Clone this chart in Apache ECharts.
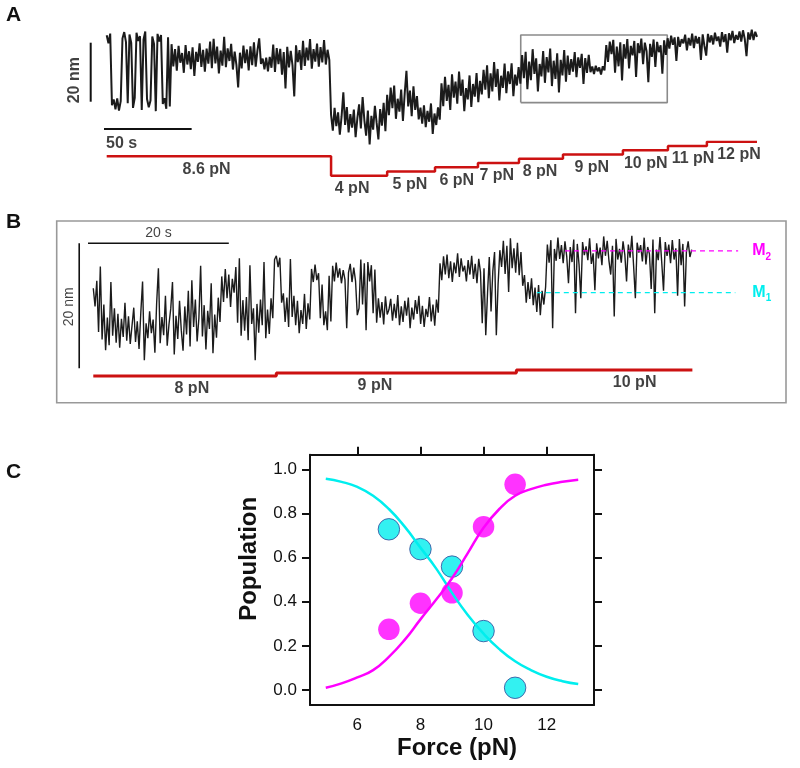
<!DOCTYPE html>
<html><head><meta charset="utf-8">
<script src="https://cdn.jsdelivr.net/npm/echarts@6/dist/echarts.min.js"></script>
<style>html,body{margin:0;padding:0;background:#fff}#c{width:800px;height:768px}</style>
</head><body><div id="c"></div>
<script>
const FONT = '"Liberation Sans", Arial, Helvetica, sans-serif';

// ---------- Panel A : extension trace (nm), one sample per second ----------
const dtA = 1;
const traceA = [
22.5,19.8,23.1,-1.2,0.8,-2.6,1.1,-3.0,0.2,21.4,23.6,20.2,-0.5,22.8,19.9,-2.1,1.3,23.4,20.6,22.2,-2.8,21.0,23.8,0.9,-1.9,0.4,22.1,19.6,-3.2,23.0,20.4,22.6,-0.8,1.2,-2.4,21.8,-1.6,
19.5,12.0,17.8,10.5,18.9,13.2,16.5,9.8,19.2,12.6,
17.1,11.0,18.4,8.7,16.9,13.5,19.8,11.8,17.6,10.2,
18.0,12.9,20.4,11.4,21.3,13.0,18.7,9.6,17.3,12.2,
22.0,11.7,18.1,13.8,19.6,10.9,17.0,12.5,4.8,16.6,
11.3,19.0,13.1,17.7,10.6,18.8,12.4,20.1,11.9,17.4,
21.5,12.8,14.6,11.0,14.9,10.3,15.2,11.5,19.4,10.1,
18.2,12.7,17.9,9.2,16.8,4.5,18.6,11.6,17.2,12.3,
1.8,19.1,13.4,17.5,10.8,20.6,12.1,18.3,14.0,21.2,
11.2,17.8,13.6,19.7,11.9,18.5,13.3,20.9,12.6,17.6,14.2,
-4.5,-9.8,-2.1,-8.3,-3.6,-11.2,-5.0,3.2,-7.9,-1.8,
-10.4,-4.2,-8.8,-2.7,-12.0,-5.6,-0.9,-9.1,1.6,-6.3,
-11.5,-3.0,-14.5,-4.8,-9.5,-1.4,-7.2,-12.8,-2.5,-8.1,
-0.4,-10.0,
2.3,-4.6,4.8,-2.2,5.5,-5.8,1.0,-3.4,4.1,-6.5,2.7,10.5,-1.6,3.8,-4.9,5.2,-2.8,1.9,-6.0,
-2.0,-7.4,-1.2,-8.6,-3.1,-6.8,-0.6,-10.9,-4.0,-7.9,-1.9,-6.1,
6.2,-1.5,8.4,0.3,5.7,-2.8,9.3,1.4,6.8,-0.7,10.2,2.0,7.5,-3.2,4.6,0.8,8.9,-1.8,6.0,1.7,9.7,-0.2,7.1,
2.5,10.8,4.1,12.3,1.2,9.6,3.5,13.4,5.0,11.1,0.4,8.8,4.7,12.9,2.9,10.3,6.0,13.0,1.9,9.2,5.5,11.7,
6.1,15.8,8.0,16.9,4.2,13.6,7.3,17.8,9.4,14.7,3.5,12.8,8.6,17.2,6.4,15.1,9.9,18.0,5.3,13.9,7.7,16.4,3.1,14.2,8.9,17.5,6.8,
15.6,9.1,14.4,10.2,16.8,8.3,15.0,11.5,16.2,6.0,14.8,9.8,15.9,
10.0,11.9,9.4,12.2,10.3,11.6,9.2,12.0,10.6,
19.2,13.5,20.4,16.1,21.0,9.8,18.7,12.0,20.1,7.2,19.5,14.6,21.2,11.3,18.9,15.7,20.6,8.4,19.8,16.5,21.4,12.7,20.0,17.1,6.6,19.6,15.2,21.1,11.8,20.3,16.8,19.1,9.5,20.8,15.9,
21.5,18.0,22.4,19.3,21.8,13.8,22.0,18.6,21.2,19.8,22.7,17.4,21.6,19.0,23.1,18.2,22.3,19.7,21.9,14.2,22.8,18.9,15.6,23.0,20.1,22.5,19.4,23.4,20.6,22.1,18.7,23.6,20.2,22.9,16.6,23.2,20.8,24.0,19.9,22.6,21.0,23.8,20.4,24.2,21.3,15.4,23.5,21.1,24.4,20.9,23.7,22.0
];
const forceStepTimesA = [0,128,160,187.3,211.8,235.2,260.3,294.5,320.2,342.4,371];
const forceLevelsA = [8.6,4,5,6,7,8,9,10,11,12];
const forceLabelsA = ['8.6 pN','4 pN','5 pN','6 pN','7 pN','8 pN','9 pN','10 pN','11 pN','12 pN'];
const forceLabelTimesA = [57,140,173,199.7,222.5,247.2,276.7,307.5,334.5,360.7];
const zoomBoxA = {t0:236.2, t1:319.8, y0:-0.3, y1:22.6};
const scaleA = {sec:50, nm:20, barT:-9.13, barSecStart:-1.54, barSecY:-9.25};

// ---------- Panel B : zoomed trace (nm), 0.25 s per sample ----------
const dtB = 0.25;
const traceB = [
12.8,9.9,14.0,5.8, 16.3,4.6,10.2,2.9, 8.1,3.7,13.8,5.2, 9.6,4.1,8.7,3.3, 7.9,5.0,10.5,4.4,
8.3,3.9,6.8,9.7, 4.2,7.5,3.1,8.9, 13.9,1.3,7.2,4.8, 9.1,5.6,7.8,2.5, 10.4,16.0,4.0,8.2,
5.3,11.6,3.6,7.0, 9.5,13.8,2.2,8.4, 4.7,10.8,6.1,2.8, 9.9,5.4,12.4,3.5, 14.1,6.6,11.0,4.3,
8.0,16.4,5.1,10.1, 3.0,9.2,6.3,13.6, 2.4,8.6,4.9,11.3, 7.4,14.7,10.6,15.9, 11.2,15.0,9.8,14.3,
12.1,16.2,7.3,17.6, 5.2,10.9,6.0,11.4, 4.5,16.5,7.1,9.6, 1.3,10.3,5.7,11.0, 6.9,17.0,4.8,9.4,
5.5,11.2,8.0,17.4, 18.0,16.2,17.7,10.5, 12.0,7.4,11.3,6.6, 17.5,8.2,11.6,6.9, 10.8,5.6,9.3,7.1,
11.9,6.3,10.4,7.8, 15.9,13.8,16.6,14.1, 15.2,8.0,13.4,6.9, 9.1,6.1,14.8,7.5, 16.4,13.9,16.9,14.5,
16.0,13.6,15.7,14.2, 6.4,15.3,16.7,13.8, 16.1,14.0,8.5,9.6, 17.4,10.2,16.8,6.1, 17.0,13.9,16.5,8.8,
15.8,7.3,11.2,8.1, 10.6,7.0,11.5,8.6, 9.4,11.1,7.6,10.3, 8.0,11.7,6.9,9.9, 7.4,10.8,8.4,11.3,
6.4,9.7,7.8,10.9, 8.7,11.6,7.1,10.0, 6.6,9.5,8.2,11.4, 7.5,10.2,6.8,11.0, 8.9,16.8,14.1,17.9,
15.0,18.2,14.4,17.1, 13.8,16.9,15.2,18.4, 14.6,17.6,15.5,16.4, 13.9,17.3,15.0,18.0, 14.3,16.7,13.6,17.5,
15.4,7.2,16.0,5.3, 12.0,17.8,9.1,15.5, 18.6,5.3,13.4,18.9, 16.2,20.4,15.1,19.6, 12.2,20.8,16.0,19.2,
15.3,20.1,14.9,18.6, 13.2,14.9,10.5,13.8, 11.1,14.4,10.1,12.9, 9.0,13.3,8.5,12.4, 10.2,13.0,19.8,16.9,
20.5,6.4,19.1,17.2, 20.9,17.5,19.7,16.8, 20.3,17.9,13.6,19.4, 17.0,20.6,8.8,19.9, 16.6,11.2,20.2,18.1,
19.5,17.3,20.8,16.7, 18.4,12.5,20.0,17.6, 19.3,16.5,21.1,18.0, 20.4,17.2,15.0,19.6, 8.3,20.7,17.4,19.1,
16.9,20.3,18.2,13.9, 19.8,17.7,21.2,16.4, 11.2,20.1,18.5,19.7, 17.1,20.9,16.6,19.4, 18.3,12.7,20.6,8.8,
19.0,17.3,21.0,16.9, 12.4,20.2,18.0,19.8, 16.8,20.5,17.4,19.2, 11.6,20.7,16.5,19.9, 9.9,18.6,20.3,17.8,
19.0
];
const forceStepTimesB = [0,26,60.1,85.1];
const forceLevelsB = [8,9,10];
const forceLabelsB = ['8 pN','9 pN','10 pN'];
const forceLabelTimesB = [14,40,76.9];
const levelM2 = {nm:18.8, t0:67, t1:91.6};
const levelM1 = {nm:12.1, t0:63, t1:91.2};
const scaleB = {sec:20, nm:20, barT:-2, barSecStart:-0.75, barSecY:20};

// ---------- Panel C : populations vs force ----------
const forceC = [7,8,9,10,11];
const popM1 = [0.728,0.638,0.559,0.267,0.010];
const popM2 = [0.275,0.393,0.440,0.740,0.932];
const fitX  = [5,5.5,6,6.5,7,7.5,8,8.5,9,9.5,10,10.5,11,11.5,12,12.5,13];
const fitM2 = [0.010,0.030,0.057,0.090,0.150,0.227,0.320,0.410,0.506,0.620,0.735,0.820,0.880,0.910,0.930,0.943,0.952];
const fitM1 = [0.957,0.943,0.920,0.880,0.820,0.740,0.645,0.550,0.440,0.340,0.255,0.185,0.130,0.090,0.060,0.040,0.027];
const yTicksC = [0,0.2,0.4,0.6,0.8,1.0];
const xTicksC = [6,8,10,12];

// ---------- build ----------
const CY = '#00eeee', MG = '#ff00ff', RED = '#cc1111', TR = '#1b1b1b';
function stepLine(ts, lv){const o=[];lv.forEach((f,i)=>{o.push([ts[i],f]);o.push([ts[i+1],f]);});return o;}
function hidden(gi,min,max){return {gridIndex:gi,type:'value',min:min,max:max,show:false};}
const lbl = (extra)=>Object.assign({show:true,color:'#111',fontFamily:FONT},extra);

const option = {
  animation:false,
  backgroundColor:'#fff',
  textStyle:{fontFamily:FONT},
  title:[
    {text:'A',left:6,top:5,padding:0,textStyle:{fontSize:21,fontWeight:'bold',color:'#111',fontFamily:FONT}},
    {text:'B',left:6,top:212,padding:0,textStyle:{fontSize:21,fontWeight:'bold',color:'#111',fontFamily:FONT}},
    {text:'C',left:6,top:462,padding:0,textStyle:{fontSize:21,fontWeight:'bold',color:'#111',fontFamily:FONT}}
  ],
  graphic:[{type:'rect',shape:{x:56.7,y:221,width:729.3,height:181.7},style:{fill:'none',stroke:'#999',lineWidth:1.6},silent:true}],
  grid:[
    {left:89.17,top:27.95,width:669.6,height:120.95,containLabel:false,outerBoundsMode:'none'},
    {left:89.17,top:141.7,width:669.6,height:34,containLabel:false,outerBoundsMode:'none'},
    {left:77.8,top:230.8,width:705.4,height:140.6,containLabel:false,outerBoundsMode:'none'},
    {left:77.8,top:367,width:705.4,height:12,containLabel:false,outerBoundsMode:'none'},
    {left:310,top:454.7,width:284,height:250.3,containLabel:false,outerBoundsMode:'none'}
  ],
  xAxis:[
    hidden(0,-10,372), hidden(1,-10,372), hidden(2,-2.2,98), hidden(3,-2.2,98),
    {gridIndex:4,type:'value',min:4.5,max:13.5,position:'bottom',
     axisLine:{show:true,onZero:false,lineStyle:{color:'#111',width:2}},
     axisTick:{show:false},splitLine:{show:false},
     axisLabel:{customValues:xTicksC,fontSize:17,color:'#111',margin:12,fontFamily:FONT},
     name:'Force (pN)',nameLocation:'middle',nameGap:31,
     nameTextStyle:{fontSize:24,fontWeight:'bold',color:'#111',fontFamily:FONT,padding:[0,0,0,10]}},
    {gridIndex:4,type:'value',min:4.5,max:13.5,position:'top',
     axisLine:{show:true,onZero:false,lineStyle:{color:'#111',width:2}},
     axisTick:{show:true,customValues:xTicksC,length:8,lineStyle:{color:'#111',width:2}},
     axisLabel:{show:false},splitLine:{show:false}}
  ],
  yAxis:[
    hidden(0,-16,25), hidden(1,4,12), hidden(2,-0.5,22), hidden(3,7,11),
    {gridIndex:4,type:'value',min:-0.068,max:1.066,position:'left',
     axisLine:{show:true,onZero:false,lineStyle:{color:'#111',width:2}},
     axisTick:{show:true,customValues:yTicksC,length:8,lineStyle:{color:'#111',width:2}},
     splitLine:{show:false},
     axisLabel:{customValues:yTicksC,formatter:v=>(+v).toFixed(1),fontSize:17,color:'#111',margin:13,fontFamily:FONT},
     name:'Population',nameLocation:'middle',nameRotate:90,nameGap:49,
     nameTextStyle:{fontSize:24,fontWeight:'bold',color:'#111',fontFamily:FONT,padding:[0,0,0,42]}},
    {gridIndex:4,type:'value',min:-0.068,max:1.066,position:'right',
     axisLine:{show:true,onZero:false,lineStyle:{color:'#111',width:2}},
     axisTick:{show:true,customValues:yTicksC,length:8,lineStyle:{color:'#111',width:2}},
     axisLabel:{show:false},splitLine:{show:false}}
  ],
  series:[
    // ---- A ----
    {type:'line',xAxisIndex:0,yAxisIndex:0,data:traceA.map((v,i)=>[i*dtA,v]),symbol:'none',
     lineStyle:{color:TR,width:2},silent:true,z:3},
    {type:'line',xAxisIndex:0,yAxisIndex:0,symbol:'none',silent:true,z:2,
     data:[[zoomBoxA.t0,zoomBoxA.y0],[zoomBoxA.t1,zoomBoxA.y0],[zoomBoxA.t1,zoomBoxA.y1],[zoomBoxA.t0,zoomBoxA.y1],[zoomBoxA.t0,zoomBoxA.y0]],
     lineStyle:{color:'#8a8a8a',width:1.6}},
    {type:'line',xAxisIndex:0,yAxisIndex:0,symbol:'none',silent:true,
     data:[[scaleA.barT,0],[scaleA.barT,scaleA.nm]],lineStyle:{color:'#111',width:2}},
    {type:'line',xAxisIndex:0,yAxisIndex:0,symbol:'none',silent:true,
     data:[[scaleA.barSecStart,scaleA.barSecY],[scaleA.barSecStart+scaleA.sec,scaleA.barSecY]],lineStyle:{color:'#111',width:2}},
    {type:'scatter',xAxisIndex:0,yAxisIndex:0,symbolSize:0,silent:true,
     data:[
       {value:[scaleA.barT,scaleA.nm/2],label:lbl({formatter:scaleA.nm+' nm',position:'inside',rotate:90,offset:[-8,-15.7],fontSize:16,fontWeight:'bold'})},
       {value:[scaleA.barSecStart,scaleA.barSecY],label:lbl({formatter:scaleA.sec+' s',position:'right',distance:2,offset:[0,14.3],fontSize:16,fontWeight:'bold'})}
     ]},
    {type:'line',xAxisIndex:1,yAxisIndex:1,symbol:'none',silent:true,
     data:stepLine(forceStepTimesA,forceLevelsA),lineStyle:{color:RED,width:2.5}},
    {type:'scatter',xAxisIndex:1,yAxisIndex:1,symbolSize:0,silent:true,
     data:forceLabelsA.map((s,i)=>({value:[forceLabelTimesA[i],forceLevelsA[i]],name:s})),
     label:lbl({formatter:'{b}',position:'bottom',distance:5,fontSize:16,fontWeight:'bold'})},
    // ---- B ----
    {type:'line',xAxisIndex:2,yAxisIndex:2,data:traceB.map((v,i)=>[i*dtB,v]),symbol:'none',
     lineStyle:{color:TR,width:1.4},silent:true,z:3},
    {type:'line',xAxisIndex:2,yAxisIndex:2,symbol:'none',silent:true,
     data:[[scaleB.barT,0],[scaleB.barT,scaleB.nm]],lineStyle:{color:'#111',width:1.6}},
    {type:'line',xAxisIndex:2,yAxisIndex:2,symbol:'none',silent:true,
     data:[[scaleB.barSecStart,scaleB.barSecY],[scaleB.barSecStart+scaleB.sec,scaleB.barSecY]],lineStyle:{color:'#111',width:1.6}},
    {type:'scatter',xAxisIndex:2,yAxisIndex:2,symbolSize:0,silent:true,
     data:[
       {value:[scaleB.barT,scaleB.nm/2],label:lbl({formatter:scaleB.nm+' nm',position:'inside',rotate:90,offset:[-1,-10.3],fontSize:14})},
       {value:[scaleB.barSecStart+scaleB.sec/2,scaleB.barSecY],label:lbl({formatter:scaleB.sec+' s',position:'top',distance:3,fontSize:14})}
     ]},
    {type:'line',xAxisIndex:2,yAxisIndex:2,symbol:'none',silent:true,z:4,
     data:[[levelM2.t0,levelM2.nm],[levelM2.t1,levelM2.nm]],lineStyle:{color:MG,width:1.3,type:[5,4]},
     endLabel:{show:true,distance:14,formatter:'{m|M}{s|2}',
       rich:{m:{fontSize:16,fontWeight:'bold',color:MG,fontFamily:FONT},s:{fontSize:10,fontWeight:'bold',color:MG,fontFamily:FONT,padding:[12,0,0,0]}}}},
    {type:'line',xAxisIndex:2,yAxisIndex:2,symbol:'none',silent:true,z:4,
     data:[[levelM1.t0,levelM1.nm],[levelM1.t1,levelM1.nm]],lineStyle:{color:CY,width:1.3,type:[5,4]},
     endLabel:{show:true,distance:17,formatter:'{m|M}{s|1}',
       rich:{m:{fontSize:16,fontWeight:'bold',color:CY,fontFamily:FONT},s:{fontSize:10,fontWeight:'bold',color:CY,fontFamily:FONT,padding:[12,0,0,0]}}}},
    {type:'line',xAxisIndex:3,yAxisIndex:3,symbol:'none',silent:true,
     data:stepLine(forceStepTimesB,forceLevelsB),lineStyle:{color:RED,width:3}},
    {type:'scatter',xAxisIndex:3,yAxisIndex:3,symbolSize:0,silent:true,
     data:forceLabelsB.map((s,i)=>({value:[forceLabelTimesB[i],forceLevelsB[i]],name:s})),
     label:lbl({formatter:'{b}',position:'bottom',distance:5,fontSize:16,fontWeight:'bold'})},
    // ---- C ----
    {type:'scatter',xAxisIndex:4,yAxisIndex:4,symbolSize:21.5,z:2,
     data:forceC.map((f,i)=>[f,popM1[i]]),itemStyle:{color:CY,borderColor:'#34479a',borderWidth:1}},
    {type:'scatter',xAxisIndex:4,yAxisIndex:4,symbolSize:21.5,z:2,
     data:forceC.map((f,i)=>[f,popM2[i]]),itemStyle:{color:MG}},
    {type:'line',xAxisIndex:4,yAxisIndex:4,symbol:'none',smooth:true,z:3,
     data:fitX.map((x,i)=>[x,fitM1[i]]),lineStyle:{color:CY,width:2.5}},
    {type:'line',xAxisIndex:4,yAxisIndex:4,symbol:'none',smooth:true,z:3,
     data:fitX.map((x,i)=>[x,fitM2[i]]),lineStyle:{color:MG,width:2.5}}
  ]
};
const chart = echarts.init(document.getElementById('c'),null,{renderer:'canvas'});
chart.setOption(option);
</script>
</body></html>
